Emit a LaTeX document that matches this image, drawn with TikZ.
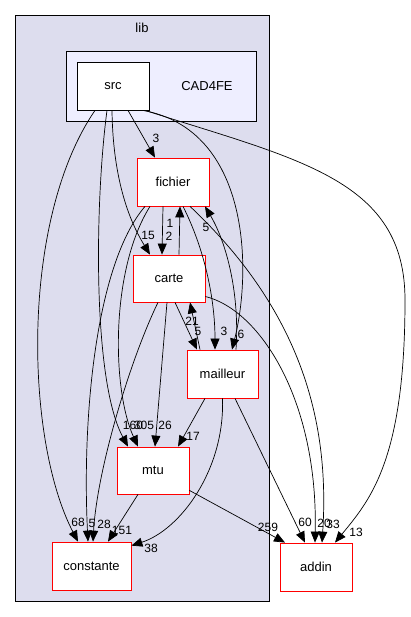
\documentclass[tikz,border=0pt]{standalone}
\usepackage{fontspec}
\setmainfont{Liberation Sans}
\usetikzlibrary{arrows.meta, calc}
\definecolor{libfill}{RGB}{221,221,238}
\definecolor{cadfill}{RGB}{238,238,255}
\tikzstyle{cluster} = [rectangle, draw=black, line width=0.8pt, inner sep=0pt]
\tikzstyle{dir} = [rectangle, minimum width=72pt, minimum height=48pt, text centered, draw=red, fill=white, line width=0.8pt, inner sep=0pt]
\tikzstyle{arrow} = [line width=0.7pt, -{Triangle[length=11pt,width=9pt]}]
\tikzstyle{lbl} = [inner sep=0pt, font=\fontsize{12}{14}\selectfont]

\begin{document}
\begin{tikzpicture}[x=1pt, y=-1pt, font=\fontsize{13}{15}\selectfont]

        % \draw[help lines] (0,0) grid (411,617);
        \useasboundingbox (0,0) rectangle (411,617);

        \node (LIB) [cluster, fill=libfill, minimum width=254pt, minimum height=586pt] at (142,308) {};
        \node (LIBT) at (142,28) {lib};
        \node (CAD) [cluster, fill=cadfill, minimum width=190pt, minimum height=70pt] at (161,86) {};
        \node (CADT) at (207,86) {CAD4FE};

        \node (SRC) [dir, draw=black] at (113,86) {src};
        \node (FICH) [dir] at (173,182) {fichier};
        \node (CARTE) [dir, minimum height=47pt] at (169,278.5) {carte};
        \node (MAIL) [dir, minimum width=71pt] at (222.5,374) {mailleur};
        \node (MTU) [dir, minimum height=47pt] at (153,470.5) {mtu};
        \node (CONST) [dir, minimum width=79pt] at (91.5,566) {constante};
        \node (ADDIN) [dir] at (316,567) {addin};

        % src
        \draw [arrow] ([xshift=15pt]SRC.south) -- ([xshift=-18pt]FICH.north) node[lbl] (l1) at (156,138) {3};
        \draw [arrow] ([xshift=-1pt]SRC.south) .. controls (113,190) and (135,230) .. ([xshift=-19pt]CARTE.north) node[lbl] (l2) at (148,235) {15};
        \draw [arrow] ([xshift=-6pt]SRC.south) .. controls (95,200) and (92,380) .. ([xshift=-25pt]MTU.north) node[lbl] (l3) at (133,425) {160};
        \draw [arrow] ([xshift=-18pt]SRC.south) .. controls (20,220) and (25,440) .. ([xshift=-13.5pt]CONST.north) node[lbl] (l4) at (78,522) {68};
        \draw [arrow] ([xshift=30pt]SRC.south) .. controls (250,130) and (252,270) .. ([xshift=9.5pt]MAIL.north) node[lbl] (l5) at (241,334) {6};
        \draw [arrow] ([xshift=32pt]SRC.south) .. controls (300,160) and (405,180) .. (405,300) .. controls (405,460) and (370,500) .. ([xshift=19pt]ADDIN.north) node[lbl] (l6) at (356,532) {13};

        % fichier
        \draw [arrow] ([xshift=-10pt]FICH.south) -- ([xshift=-7pt]CARTE.north) node[lbl] (l7) at (169,236) {2};
        \draw [arrow] ([xshift=10pt]CARTE.north) -- ([xshift=7pt]FICH.south) node[lbl] (l8) at (170,223) {1};
        \draw [arrow] ([xshift=-23pt]FICH.south) .. controls (110,270) and (112,390) .. ([xshift=-15pt]MTU.north) node[lbl] (l9) at (144,425) {305};
        \draw [arrow] ([xshift=-28pt]FICH.south) .. controls (95,265) and (82,420) .. ([xshift=-3.5pt]CONST.north) node[lbl] (l10) at (92,523) {5};
        \draw [arrow] ([xshift=10pt]FICH.south) .. controls (205,250) and (215,300) .. ([xshift=-7.5pt]MAIL.north) node[lbl] (l11) at (224,331) {3};
        \draw [arrow] ([xshift=13.5pt]MAIL.north) .. controls (240,290) and (225,240) .. ([xshift=32pt]FICH.south) node[lbl] (l12) at (206,227) {5};
        \draw [arrow] ([xshift=17pt]FICH.south) .. controls (300,310) and (330,420) .. ([xshift=6pt]ADDIN.north) node[lbl] (l13) at (333,524) {33};

        % carte
        \draw [arrow] ([xshift=6pt]CARTE.south) -- ([xshift=-25.5pt]MAIL.north) node[lbl] (l14) at (198,331) {5};
        \draw [arrow] ([xshift=-22.5pt]MAIL.north) -- ([xshift=21pt]CARTE.south) node[lbl] (l15) at (192,321) {21};
        \draw [arrow] ([xshift=-2pt]CARTE.south) -- ([xshift=2pt]MTU.north) node[lbl] (l16) at (165,425) {26};
        \draw [arrow] ([xshift=-11pt]CARTE.south) .. controls (130,360) and (97,470) .. ([xshift=1.5pt]CONST.north) node[lbl] (l17) at (104,524) {28};
        \draw [arrow] ([yshift=-18pt]CARTE.east) .. controls (260,310) and (318,400) .. ([xshift=-1pt]ADDIN.north) node[lbl] (l18) at (324,523) {20};

        % mailleur
        \draw [arrow] ([xshift=-17.5pt]MAIL.south) -- ([xshift=25pt]MTU.north) node[lbl] (l19) at (193,436) {17};
        \draw [arrow] (MAIL.south) .. controls (225,470) and (180,530) .. ([yshift=-4pt]CONST.north east) node[lbl] (l20) at (151,548) {38};
        \draw [arrow] ([xshift=12.5pt]MAIL.south) -- ([xshift=-11pt]ADDIN.north) node[lbl] (l21) at (305,522) {60};

        % mtu
        \draw [arrow] ([xshift=-15pt]MTU.south) -- ([xshift=16.5pt]CONST.north) node[lbl] (l22) at (122,530) {151};
        \draw [arrow] ([yshift=4pt]MTU.south east) -- ([xshift=-31pt]ADDIN.north) node[lbl] (l23) at (268,527) {259};

    \end{tikzpicture}
\end{document}
